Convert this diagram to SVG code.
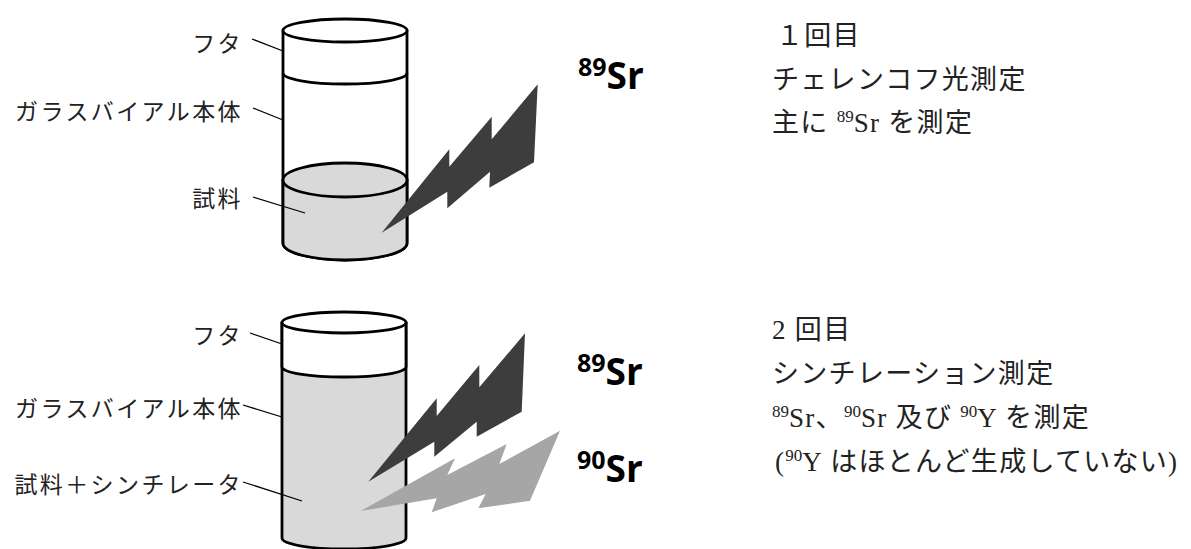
<svg xmlns="http://www.w3.org/2000/svg" width="1191" height="549" viewBox="0 0 1191 549">
  <style>
    .vial { stroke: #000; stroke-width: 2.8; stroke-linejoin: round; }
    .lead { stroke: #000; stroke-width: 1.3; fill: none; }
    .lbl { font-family: "Liberation Serif", "Noto Sans CJK JP", serif; font-size: 23px; letter-spacing: 2.4px; fill: #222; text-anchor: end; }
    .note { font-family: "Liberation Serif", "Noto Sans CJK JP", serif; font-size: 27px; letter-spacing: 1.3px; fill: #222; }
    .iso { font-family: "Open Sans", "Liberation Sans", sans-serif; font-weight: 700; fill: #000; }
    .boltDark { fill: #3d3d3d; }
    .boltLight { fill: #a6a6a6; }
  </style>

  <!-- First vial: sample only (Cherenkov measurement) -->
  <g id="vial1">
    <path class="vial" fill="#fff" d="M283,30.5 V243 A62,17 0 0 0 407,243 V30.5 Z"/>
    <path class="vial" fill="#d9d9d9" d="M283,180 V243 A62,17 0 0 0 407,243 V180 Z"/>
    <ellipse class="vial" fill="#d9d9d9" cx="345" cy="180" rx="62" ry="17"/>
    <path class="vial" fill="none" d="M283,73 A62,11 0 0 0 407,73"/>
    <ellipse class="vial" fill="#fff" cx="345" cy="30.5" rx="62" ry="11.5"/>
  </g>

  <!-- Second vial: sample + scintillator -->
  <g id="vial2">
    <path class="vial" fill="#d9d9d9" d="M282,322.5 V538 A62,11 0 0 0 406,538 V322.5 Z"/>
    <path class="vial" fill="#fff" d="M282,322.5 V367 A62,10 0 0 0 406,367 V322.5 Z"/>
    <ellipse class="vial" fill="#fff" cx="344" cy="322.5" rx="62" ry="10.5"/>
  </g>

  <!-- Leader lines -->
  <g id="connectors">
    <line class="lead" x1="252" y1="39" x2="283" y2="51"/>
    <line class="lead" x1="253" y1="108" x2="283" y2="120"/>
    <line class="lead" x1="253" y1="197" x2="305" y2="213"/>
    <line class="lead" x1="250" y1="333" x2="282" y2="344"/>
    <line class="lead" x1="243" y1="405" x2="282" y2="417"/>
    <line class="lead" x1="243" y1="482" x2="302" y2="501"/>
  </g>

  <!-- Labels -->
  <g id="labels1">
    <text class="lbl" x="243" y="52">フタ</text>
    <text class="lbl" x="243" y="120">ガラスバイアル本体</text>
    <text class="lbl" x="243" y="207">試料</text>
  </g>
  <g id="labels2">
    <text class="lbl" x="243" y="344">フタ</text>
    <text class="lbl" x="243" y="417">ガラスバイアル本体</text>
    <text class="lbl" x="243" y="493">試料＋シンチレータ</text>
  </g>

  <!-- Radiation bolts -->
  <g id="bolt1">
    <polygon class="boltDark" points="381.7,232.7 449.3,149.3 449.3,166.7 491.7,116.7 491.7,139.3 537.7,84.3 534,162.3 489.3,187.7 490,171.7 447.3,208.3 447.3,191.7"/>
  </g>
  <g id="bolt2">
    <polygon class="boltDark" points="368.3,481.7 436.7,398.3 436.7,416 479.3,365 479.3,387.3 525,333.3 521.7,411.7 476.7,436.7 476.7,421.7 434.3,456.7 434.3,441.7"/>
  </g>
  <g id="bolt3">
    <polygon class="boltLight" points="360.7,511 455,458.3 447.3,475 506.7,444 499.3,464 560,430.7 530,500.7 478.3,508.3 485.7,494 431.7,512.3 436.7,498.3"/>
  </g>

  <!-- Isotope tags -->
  <g id="iso1">
    <text class="iso" x="578" y="89"><tspan font-size="25" dy="-13">89</tspan><tspan font-size="37" dy="13">Sr</tspan></text>
  </g>
  <g id="iso2">
    <text class="iso" x="577" y="385"><tspan font-size="25" dy="-13">89</tspan><tspan font-size="37" dy="13">Sr</tspan></text>
  </g>
  <g id="iso3">
    <text class="iso" x="577" y="482"><tspan font-size="25" dy="-13">90</tspan><tspan font-size="37" dy="13">Sr</tspan></text>
  </g>

  <!-- Measurement notes -->
  <g id="note1">
    <text class="note" x="776" y="45">１回目</text>
    <text class="note" x="772" y="89">チェレンコフ光測定</text>
    <text class="note" x="772" y="132">主に <tspan font-size="17" dy="-10" letter-spacing="0">89</tspan><tspan dy="10">Sr を測定</tspan></text>
  </g>
  <g id="note2">
    <text class="note" x="772" y="339">2 回目</text>
    <text class="note" x="772" y="383">シンチレーション測定</text>
    <text class="note" x="772" y="427"><tspan font-size="17" dy="-10" letter-spacing="0">89</tspan><tspan dy="10">Sr、</tspan><tspan font-size="17" dy="-10" letter-spacing="0">90</tspan><tspan dy="10">Sr 及び </tspan><tspan font-size="17" dy="-10" letter-spacing="0">90</tspan><tspan dy="10">Y を測定</tspan></text>
    <text class="note" x="775" y="471">(<tspan font-size="17" dy="-10" letter-spacing="0">90</tspan><tspan dy="10">Y はほとんど生成していない)</tspan></text>
  </g>
</svg>
